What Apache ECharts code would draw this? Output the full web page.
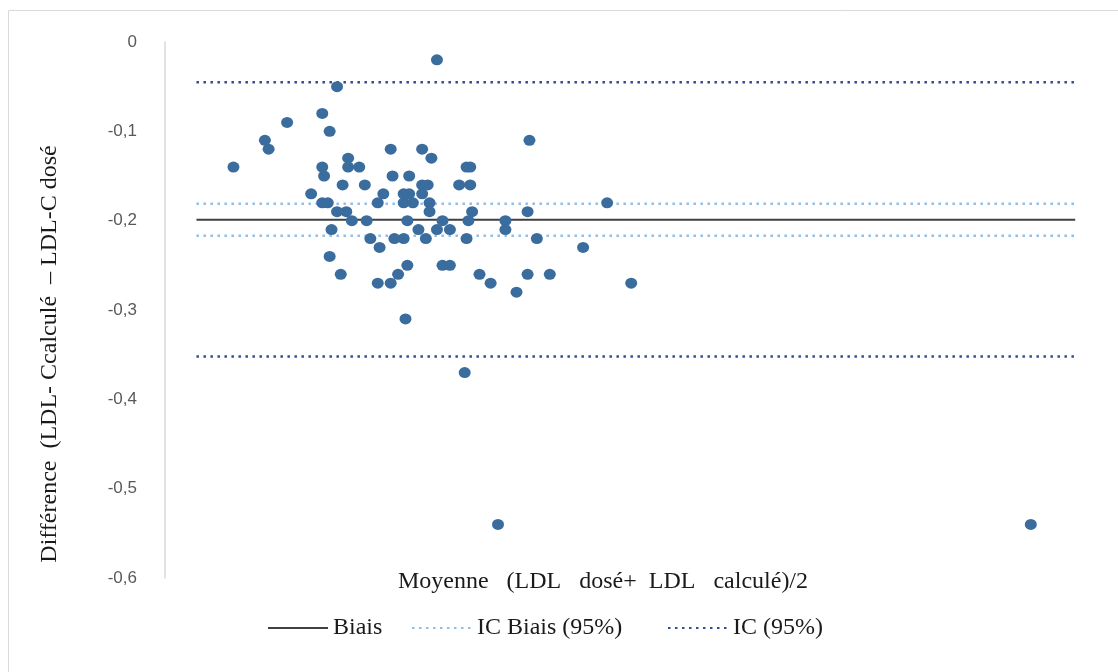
<!DOCTYPE html>
<html>
<head>
<meta charset="utf-8">
<script src="https://cdn.jsdelivr.net/npm/echarts@6/dist/echarts.min.js"></script>
<style>
  html, body { margin: 0; padding: 0; background: #ffffff; }
  #chart { width: 1118px; height: 672px; }
</style>
</head>
<body>
<div id="chart"></div>
<script>
// Bland-Altman: mean of measured and calculated LDL vs. their difference
const meanValues = [
  0.37, 0.54, 0.56, 0.66, 0.79, 0.85, 0.85, 0.86, 0.85, 0.88,
  0.89, 0.90, 0.89, 0.93, 0.93, 0.98, 0.95, 0.96, 0.99, 0.99,
  1.05, 1.01, 1.08, 1.09, 1.11, 1.15, 1.18, 1.16, 1.15, 1.22,
  1.22, 1.23, 1.32, 1.24, 1.29, 1.26, 1.31, 1.30, 1.29, 1.32,
  1.29, 1.34, 1.31, 1.39, 1.42, 1.39, 1.39, 1.44, 1.43, 1.43,
  1.37, 1.41, 1.47, 1.54, 1.47, 1.50, 1.50, 1.54, 1.59, 1.65,
  1.63, 1.65, 1.66, 1.64, 1.63, 1.62, 1.70, 1.76, 1.80, 1.84,
  1.84, 1.90, 1.97, 1.96, 2.01, 1.96, 2.08, 2.26, 2.39, 2.52,
  4.68
];
const diffValues = [
  -0.14, -0.11, -0.12, -0.09, -0.17, -0.08, -0.14, -0.15, -0.18, -0.18,
  -0.10, -0.21, -0.24, -0.05, -0.19, -0.19, -0.26, -0.16, -0.13, -0.14,
  -0.14, -0.20, -0.16, -0.20, -0.22, -0.18, -0.17, -0.23, -0.27, -0.27,
  -0.12, -0.15, -0.15, -0.22, -0.22, -0.26, -0.25, -0.31, -0.17, -0.17,
  -0.18, -0.18, -0.20, -0.16, -0.16, -0.17, -0.12, -0.13, -0.18, -0.19,
  -0.21, -0.22, -0.21, -0.21, -0.02, -0.20, -0.25, -0.25, -0.16, -0.16,
  -0.14, -0.14, -0.19, -0.20, -0.22, -0.37, -0.26, -0.27, -0.54, -0.20,
  -0.21, -0.28, -0.11, -0.19, -0.22, -0.26, -0.26, -0.23, -0.18, -0.27,
  -0.54
];

// Reference lines: bias, its 95% CI, and the 95% limits of agreement
const lineExtent = [0.17, 4.92];
const biasValue = -0.199;
const biasCI = [-0.181, -0.217];
const agreementLimits = [-0.045, -0.352];

// Y axis ticks
const yTicks = [0, -0.1, -0.2, -0.3, -0.4, -0.5, -0.6];

const points = meanValues.map((x, i) => [x, diffValues[i]]);
const hLine = (y) => [[lineExtent[0], y], [lineExtent[1], y]];

const dotted = [2.5, 4.5];
const serif = '"Liberation Serif", "DejaVu Serif", serif';

const chart = echarts.init(document.getElementById('chart'));
chart.setOption({
  animation: false,
  backgroundColor: '#ffffff',
  grid: { left: 165, right: 28, top: 42, bottom: 94 },
  xAxis: {
    type: 'value',
    min: 0,
    max: 5,
    show: false
  },
  yAxis: {
    type: 'value',
    min: yTicks[yTicks.length - 1],
    max: yTicks[0],
    interval: 0.1,
    axisLine: { show: true, lineStyle: { color: '#d9d9d9', width: 1.5 } },
    axisTick: { show: false },
    splitLine: { show: false },
    axisLabel: {
      margin: 28,
      color: '#595959',
      fontSize: 17,
      fontFamily: '"Liberation Sans", Arial, sans-serif',
      formatter: (v) => (Math.round(v * 10) / 10).toString().replace('.', ',')
    }
  },
  legend: [
    { data: ['Biais'], left: 262, top: 611 },
    { data: ['IC Biais (95%)'], left: 406, top: 611 },
    { data: ['IC (95%)'], left: 662, top: 611 }
  ].map(l => Object.assign({
    itemWidth: 60,
    itemHeight: 14,
    itemGap: 4,
    itemStyle: { opacity: 0 },
    textStyle: { fontFamily: serif, fontSize: 24, color: '#1a1a1a' }
  }, l)),
  graphic: [
    {
      type: 'rect',
      silent: true,
      shape: { x: 8.5, y: 10.5, width: 1200, height: 800 },
      style: { fill: 'none', stroke: '#d9d9d9', lineWidth: 1 }
    },
    {
      type: 'text',
      silent: true,
      x: 50,
      y: 354,
      rotation: Math.PI / 2,
      style: {
        text: 'Différence  (LDL- Ccalculé  – LDL-C dosé',
        font: '24px ' + serif,
        fill: '#1a1a1a',
        align: 'center',
        verticalAlign: 'middle'
      }
    },
    {
      type: 'text',
      silent: true,
      x: 603,
      y: 582,
      style: {
        text: 'Moyenne   (LDL   dosé+  LDL   calculé)/2',
        font: '24px ' + serif,
        fill: '#1a1a1a',
        align: 'center',
        verticalAlign: 'middle'
      }
    }
  ],
  series: [
    {
      name: 'Biais',
      type: 'line',
      data: hLine(biasValue),
      symbol: 'none',
      lineStyle: { color: '#404040', width: 2 },
      itemStyle: { color: '#404040' },
      z: 3
    },
    ...biasCI.map(y => ({
      name: 'IC Biais (95%)',
      type: 'line',
      data: hLine(y),
      symbol: 'none',
      lineStyle: { color: '#8fbde8', width: 2.5, type: dotted },
      itemStyle: { color: '#8fbde8' },
      z: 3
    })),
    ...agreementLimits.map(y => ({
      name: 'IC (95%)',
      type: 'line',
      data: hLine(y),
      symbol: 'none',
      lineStyle: { color: '#2f4d8f', width: 2.5, type: dotted },
      itemStyle: { color: '#2f4d8f' },
      z: 3
    })),
    {
      name: 'Différence',
      type: 'scatter',
      data: points,
      symbol: 'circle',
      symbolSize: [12, 11],
      itemStyle: { color: '#3a6d9d', opacity: 1 },
      z: 4
    }
  ]
});
</script>
</body>
</html>
